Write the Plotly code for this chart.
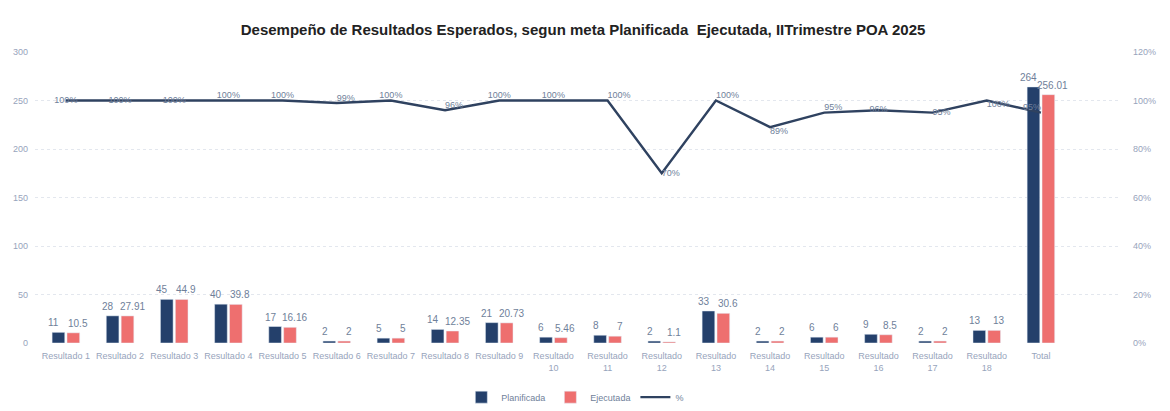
import plotly.graph_objects as go

categories = [f"Resultado {i}" for i in range(1, 10)] + [f"Resultado<br>{i}" for i in range(10, 19)] + ["Total"]
planificada = [11, 28, 45, 40, 17, 2, 5, 14, 21, 6, 8, 2, 33, 2, 6, 9, 2, 13, 264]
ejecutada = [10.5, 27.91, 44.9, 39.8, 16.16, 2, 5, 12.35, 20.73, 5.46, 7, 1.1, 30.6, 2, 6, 8.5, 2, 13, 256.01]
pct = [1.00, 1.00, 1.00, 1.00, 1.00, 0.99, 1.00, 0.96, 1.00, 1.00, 1.00, 0.70, 1.00, 0.89, 0.95, 0.96, 0.95, 1.00, 0.95]
left_ticks = [0, 50, 100, 150, 200, 250, 300]
right_ticks = [0, 0.2, 0.4, 0.6, 0.8, 1.0, 1.2]

navy = "#24406B"
salmon = "#EE6F6F"
label_col = "#6F7F9A"
tick_col = "#97A4BC"

pct_label_pos = ["middle center", "middle center", "middle center", "top center", "top center",
                 "top right", "top center", "top right", "top center", "top center", "top right",
                 "middle right", "top right", "bottom right", "top right", "middle center",
                 "middle right", "bottom right", "top left"]

fig = go.Figure()
fig.add_trace(go.Bar(x=categories, y=planificada, name="Planificada", marker_color=navy))
fig.add_trace(go.Bar(x=categories, y=ejecutada, name="Ejecutada", marker_color=salmon))
fig.add_trace(go.Scatter(
    x=categories, y=pct, name="%", yaxis="y2", mode="lines+text",
    line=dict(color="#2F4260", width=2.4),
    text=[f"{v:.0%}" for v in pct], textposition=pct_label_pos,
    textfont=dict(size=9, color=label_col), cliponaxis=False,
))

for series, shift in ((planificada, -12), (ejecutada, 12)):
    for cat, v in zip(categories, series):
        fig.add_annotation(x=cat, y=v, xref="x", yref="y", text=f"{v:g}", showarrow=False,
                           xshift=shift, yshift=2, yanchor="bottom", xanchor="center",
                           font=dict(size=10, color=label_col))

fig.update_layout(
    width=1170, height=411,
    paper_bgcolor="white", plot_bgcolor="white",
    margin=dict(l=27, r=58, t=44, b=76, autoexpand=False),
    font=dict(family="Liberation Sans, Arial, sans-serif", color=tick_col),
    title=dict(text="<b>Desempeño de Resultados Esperados, segun meta Planificada  Ejecutada, IITrimestre POA 2025</b>",
               x=0.4915, xanchor="center", y=0.946, yanchor="middle",
               font=dict(size=15, color="#222222")),
    barmode="group", bargap=0.45, bargroupgap=0.15,
    xaxis=dict(range=[-0.57, 19.46], tickfont=dict(size=9, color=tick_col), showgrid=False,
               showline=False, ticks="", ticklabelstandoff=6),
    yaxis=dict(range=[0, 300], tickvals=left_ticks, tickfont=dict(size=9, color=tick_col),
               gridcolor="#E3E7EE", griddash="dot", zeroline=False, ticklabelstandoff=6),
    yaxis2=dict(range=[0, 1.2], tickvals=right_ticks, tickformat=".0%", overlaying="y", side="right",
                tickfont=dict(size=9, color=tick_col), showgrid=False, zeroline=False,
                ticklabelstandoff=12),
    legend=dict(orientation="h", x=0.498, xanchor="center", y=-0.186, yanchor="middle",
                font=dict(size=9, color=label_col), traceorder="normal"),
    showlegend=True,
)

fig.write_html("out.html")
